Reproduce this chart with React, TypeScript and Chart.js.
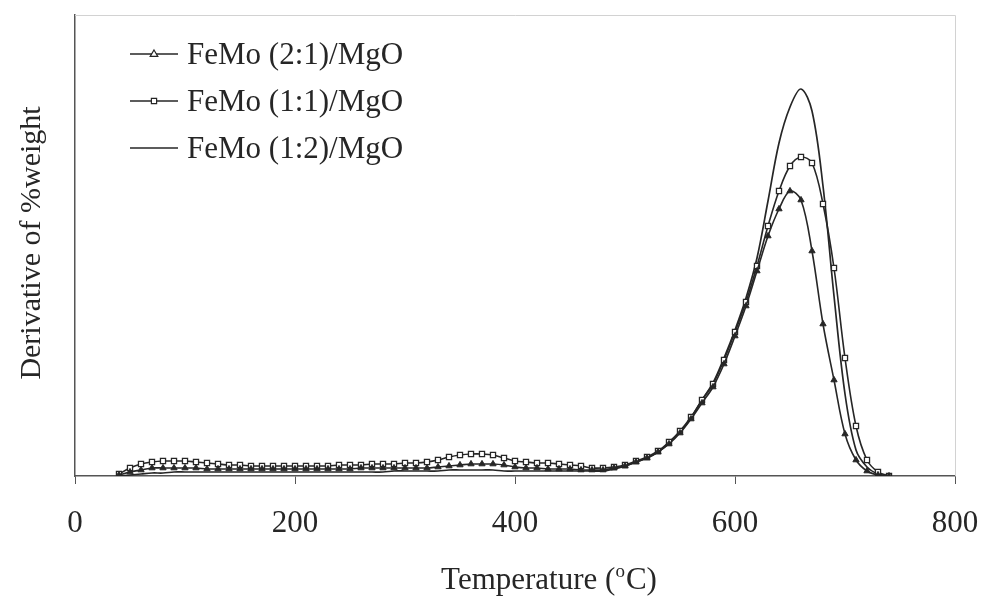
import React, { useEffect, useRef } from 'react';
import { Chart, registerables } from 'chart.js';
Chart.register(...registerables);

const temperatures = [
  40, 50, 60, 70, 80, 90, 100, 110, 120, 130, 140, 150, 160, 170, 180, 190, 200,
  210, 220, 230, 240, 250, 260, 270, 280, 290, 300, 310, 320, 330, 340, 350, 360,
  370, 380, 390, 400, 410, 420, 430, 440, 450, 460, 470, 480, 490, 500, 510, 520,
  530, 540, 550, 560, 570, 580, 590, 600, 610, 620, 630, 640, 650, 660, 670, 680,
  690, 700, 710, 720, 730, 740,
];

const femo21 = [
  1, 4, 6, 8, 8, 8, 8, 8, 7, 7, 7, 7, 7, 7, 7, 7, 7,
  7, 7, 7, 7, 7, 8, 8, 8, 8, 8, 8, 8, 9, 10, 11, 12,
  12, 12, 11, 9, 8, 8, 7, 7, 7, 6, 6, 6, 8, 10, 14, 18,
  24, 32, 43, 57, 73, 89, 112, 140, 170, 205, 240, 267, 285, 276, 225, 152,
  96, 42, 16, 5, 1, 0,
];

const femo11 = [
  2, 8, 12, 14, 15, 15, 15, 14, 13, 12, 11, 11, 10, 10, 10, 10, 10,
  10, 10, 10, 11, 11, 11, 12, 12, 12, 13, 13, 14, 16, 19, 21, 22,
  22, 21, 18, 15, 14, 13, 13, 12, 11, 10, 8, 8, 9, 11, 15, 19,
  25, 34, 45, 59, 76, 92, 116, 144, 174, 210, 250, 285, 310, 319, 313, 272,
  208, 118, 50, 16, 4, 0,
];

const femo12 = [
  0, 1, 2, 3, 3, 4, 4, 4, 4, 4, 4, 4, 4, 4, 4, 4, 4,
  4, 4, 4, 4, 4, 4, 4, 4, 5, 5, 5, 5, 5, 6, 6, 6,
  6, 6, 5, 5, 5, 5, 5, 5, 5, 5, 5, 5, 7, 10, 14, 18,
  24, 33, 44, 58, 76, 93, 118, 146, 178, 218, 275, 333, 369, 387, 365, 290,
  180, 82, 26, 9, 2, 0,
];

const seriesLabels = ['FeMo (2:1)/MgO', 'FeMo (1:1)/MgO', 'FeMo (1:2)/MgO'];
const xTickValues = [0, 200, 400, 600, 800];
const xTitleMain = 'Temperature (';
const xTitleSup = 'o';
const xTitleEnd = 'C)';
const yTitle = 'Derivative of %weight';

const INK = '#262626';
const FONT = '"Liberation Serif", "DejaVu Serif", serif';

function drawMarker(c: CanvasRenderingContext2D, style: string, x: number, y: number, fill: string) {
  c.save();
  c.lineWidth = 1.2;
  c.strokeStyle = INK;
  c.fillStyle = fill;
  c.beginPath();
  if (style === 'triangle') {
    const r = 4;
    c.moveTo(x, y - r);
    c.lineTo(x + r * 0.95, y + r * 0.6);
    c.lineTo(x - r * 0.95, y + r * 0.6);
    c.closePath();
  } else if (style === 'rect') {
    const s = 2.6;
    c.rect(x - s, y - s, 2 * s, 2 * s);
  }
  if (style !== 'none') {
    c.fill();
    c.stroke();
  }
  c.restore();
}

export default function App() {
  const ref = useRef<HTMLCanvasElement>(null);

  useEffect(() => {
    document.body.style.margin = '0';
    const canvas = ref.current;
    if (!canvas) return;
    const toXY = (arr: number[]) => temperatures.map((t, i) => ({ x: t, y: arr[i] }));
    const legendStyles = [
      { style: 'triangle', fill: '#ffffff' },
      { style: 'rect', fill: '#ffffff' },
      { style: 'none', fill: '#ffffff' },
    ];

    const frame = {
      id: 'frame',
      beforeDatasetsDraw(chart: any) {
        const c: CanvasRenderingContext2D = chart.ctx;
        const a = chart.chartArea;
        c.save();
        c.strokeStyle = '#d2d2d2';
        c.lineWidth = 1;
        c.beginPath();
        c.moveTo(a.left, a.top + 0.5);
        c.lineTo(a.right + 0.5, a.top + 0.5);
        c.lineTo(a.right + 0.5, a.bottom);
        c.stroke();
        c.restore();
      },
    };

    const annotate = {
      id: 'annotate',
      afterDraw(chart: any) {
        const c: CanvasRenderingContext2D = chart.ctx;
        c.save();
        const rows = [54, 101, 148];
        c.font = `31px ${FONT}`;
        c.fillStyle = INK;
        c.textBaseline = 'alphabetic';
        c.textAlign = 'left';
        seriesLabels.forEach((lab, i) => {
          const y = rows[i];
          c.strokeStyle = INK;
          c.lineWidth = 1.6;
          c.beginPath();
          c.moveTo(130, y);
          c.lineTo(178, y);
          c.stroke();
          drawMarker(c, legendStyles[i].style, 154, y, legendStyles[i].fill);
          c.fillStyle = INK;
          c.fillText(lab, 187, y + 10);
        });
        c.font = `31px ${FONT}`;
        const w1 = c.measureText(xTitleMain).width;
        const w3 = c.measureText(xTitleEnd).width;
        c.font = `19px ${FONT}`;
        const w2 = c.measureText(xTitleSup).width + 1;
        const total = w1 + w2 + w3;
        const x0 = 549 - total / 2;
        const by = 589;
        c.font = `31px ${FONT}`;
        c.fillText(xTitleMain, x0, by);
        c.font = `19px ${FONT}`;
        c.fillText(xTitleSup, x0 + w1, by - 12);
        c.font = `31px ${FONT}`;
        c.fillText(xTitleEnd, x0 + w1 + w2, by);
        c.translate(40, 243);
        c.rotate(-Math.PI / 2);
        c.font = `30px ${FONT}`;
        c.textAlign = 'center';
        c.textBaseline = 'alphabetic';
        c.fillText(yTitle, 0, 0);
        c.restore();
      },
    };

    const chart = new Chart(canvas, {
      type: 'line',
      data: {
        datasets: [
          {
            label: seriesLabels[0],
            data: toXY(femo21),
            borderColor: INK,
            borderWidth: 1.6,
            pointStyle: 'triangle',
            pointRadius: 3.6,
            pointBackgroundColor: INK,
            pointBorderColor: INK,
            pointBorderWidth: 1,
            tension: 0.35,
          },
          {
            label: seriesLabels[1],
            data: toXY(femo11),
            borderColor: INK,
            borderWidth: 1.6,
            pointStyle: 'rect',
            pointRadius: 3.6,
            pointBackgroundColor: '#ffffff',
            pointBorderColor: INK,
            pointBorderWidth: 1.3,
            tension: 0.35,
          },
          {
            label: seriesLabels[2],
            data: toXY(femo12),
            borderColor: INK,
            borderWidth: 1.7,
            pointRadius: 0,
            tension: 0.35,
          },
        ],
      },
      options: {
        responsive: false,
        animation: false,
        events: [],
        layout: { padding: { top: 15, right: 29, left: 0, bottom: 0 } },
        plugins: { legend: { display: false }, tooltip: { enabled: false } },
        scales: {
          x: {
            type: 'linear',
            min: 0,
            max: 800,
            afterBuildTicks: (s: any) => {
              s.ticks = xTickValues.map((v) => ({ value: v }));
            },
            afterFit: (s: any) => {
              s.height = 122;
              s.paddingLeft = 0;
              s.paddingRight = 0;
            },
            grid: { display: true, drawOnChartArea: false, drawTicks: true, tickLength: 8, color: '#555' },
            border: { display: true, color: '#555', width: 1.5 },
            ticks: { font: { family: FONT, size: 31 }, color: INK, padding: 21, maxRotation: 0 },
          },
          y: {
            min: 0,
            max: 461,
            ticks: { display: false },
            grid: { display: true, drawOnChartArea: false, drawTicks: false },
            border: { display: true, color: '#555', width: 1.5 },
            afterFit: (s: any) => {
              s.width = 75;
            },
          },
        },
      },
      plugins: [frame, annotate],
    });
    return () => chart.destroy();
  }, []);

  return <canvas ref={ref} width={984} height={598} style={{ display: 'block' }} />;
}
